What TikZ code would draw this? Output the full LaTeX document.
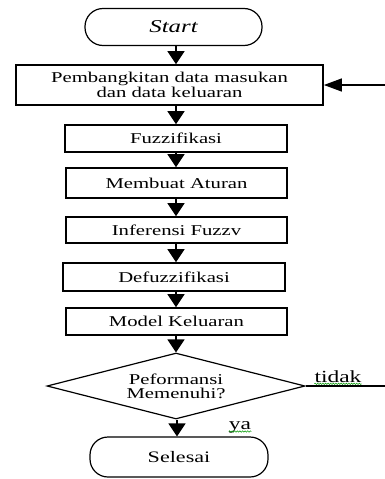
\documentclass[tikz,border=0pt]{standalone}
\usepackage{fontspec}
\setmainfont{Liberation Serif}[FakeStretch=1.38]
\usetikzlibrary{arrows.meta,shapes.geometric,decorations.pathmorphing}
\begin{document}
\begin{tikzpicture}[x=1pt,y=-1pt,
  proc/.style={draw, line width=1.7pt, inner sep=0pt, align=center,
    font=\fontsize{15}{12.5}\selectfont},
  term/.style={draw, line width=1.2pt, inner sep=0pt, rounded corners=18pt, align=center},
  decis/.style={draw, shape=diamond, aspect=3.9, line width=1.2pt, inner sep=0pt,
    align=center, font=\fontsize{15}{14}\selectfont},
  arr/.style={line width=1.3pt, -{Triangle[length=13pt,width=17pt]}},
  arrh/.style={line width=1.3pt, -{Triangle[length=18pt,width=13pt]}},
  lbl/.style={anchor=base, inner sep=0pt, font=\fontsize{17}{17}\selectfont},
  squig/.style={draw=green!60!black, line width=0.5pt, decorate,
    decoration={snake, amplitude=0.7pt, segment length=2.6pt}}
]
\useasboundingbox (0,0) rectangle (385,479);
\fill[white] (0,0) rectangle (385,479);

\node[term, minimum width=177pt, minimum height=37pt,
  font=\fontsize{18}{18}\selectfont\itshape] (start) at (173.5,27) {Start};
\node[proc, minimum width=307pt, minimum height=40pt] (gen) at (169.5,85)
  {Pembangkitan data masukan\\dan data keluaran};
\node[proc, minimum width=222pt, minimum height=27pt] (fuzz) at (176,138.5) {Fuzzifikasi};
\node[proc, minimum width=221pt, minimum height=30pt] (rule) at (176.5,183) {Membuat Aturan};
\node[proc, minimum width=221pt, minimum height=26pt] (inf) at (176.5,230) {Inferensi Fuzzv};
\node[proc, minimum width=222pt, minimum height=28pt] (defz) at (174,277) {Defuzzifikasi};
\node[proc, minimum width=221pt, minimum height=27pt] (model) at (176.5,321.5) {Model Keluaran};
\node[decis, minimum width=258pt, minimum height=66pt] (dec) at (176,386)
  {Peformansi\\Memenuhi?};
\node[term, minimum width=178pt, minimum height=40pt,
  font=\fontsize{16}{16}\selectfont] (end) at (179,457) {Selesai};

\coordinate (col) at (176,0);
\coordinate (col2) at (177,0);
\draw[arr] (start.south -| col) -- (gen.north -| col);
\draw[arr] (gen.south -| col) -- (fuzz.north -| col);
\draw[arr] (fuzz.south -| col) -- (rule.north -| col);
\draw[arr] (rule.south -| col) -- (inf.north -| col);
\draw[arr] (inf.south -| col) -- (defz.north -| col);
\draw[arr] (defz.south -| col) -- (model.north -| col);
\draw[arr] (model.south -| col) -- (dec.north -| col);
\draw[arr] (dec.south -| col2) -- (end.north -| col2);

\coordinate (fbA) at (385,386);
\coordinate (fbB) at (385,85);
\draw[line width=1.3pt] (dec.east) -- (fbA);
\draw[arrh] (fbB) -- (gen.east);

\node[lbl] (tidak) at (338,382) {tidak};
\node[lbl] (ya) at (240,429) {ya};
\draw[squig] ([yshift=-1.8pt]tidak.base west) -- ([yshift=-1.8pt]tidak.base east);
\draw[squig] ([yshift=-2.5pt]ya.base west) -- ([yshift=-2.5pt]ya.base east);
\end{tikzpicture}
\end{document}
